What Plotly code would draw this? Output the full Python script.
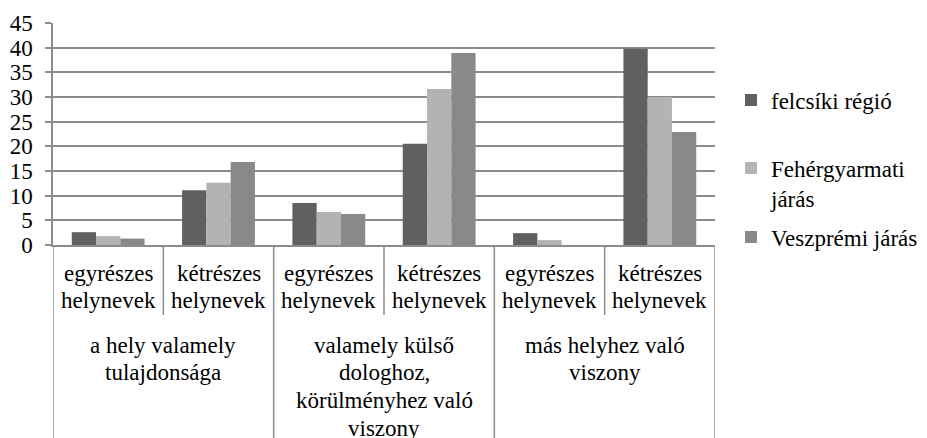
import plotly.graph_objects as go

groups = ["a hely valamely<br>tulajdonsága",
          "valamely külső<br>dologhoz,<br>körülményhez való<br>viszony",
          "más helyhez való<br>viszony"]
subcats = ["egyrészes<br>helynevek", "kétrészes<br>helynevek"]
series_names = ["felcsíki régió", "Fehérgyarmati<br>járás", "Veszprémi járás"]
felcsiki = [2.6, 11.1, 8.5, 20.5, 2.4, 39.8]
fehergyarmati = [1.8, 12.6, 6.7, 31.6, 1.0, 30.0]
veszpremi = [1.3, 16.8, 6.3, 38.9, 0, 22.9]
yticks = [0, 5, 10, 15, 20, 25, 30, 35, 40, 45]
colors = ["#606060", "#b3b3b3", "#898989"]

FONT = "Liberation Serif"
FS = 23
GRID = "#8c8c8c"

W, H = 927, 438
ML, MR, MT, MB = 53, 212, 23, 193
PH = H - MT - MB


def py2paper(py):
    return (H - MB - py) / PH


n = len(groups) * len(subcats)
xs = list(range(n))
sub_labels = [subcats[i % len(subcats)] for i in xs]

fig = go.Figure()
legend_ids = ["legend", "legend2", "legend3"]
for name, vals, col, lg in zip(series_names, [felcsiki, fehergyarmati, veszpremi], colors, legend_ids):
    fig.add_trace(go.Bar(x=xs, y=vals, name=name, marker=dict(color=col, line=dict(width=0)),
                         legend=lg))

LINE = 27
# sub-category labels, one annotation per line
for i, lab in enumerate(sub_labels):
    for j, line in enumerate(lab.split("<br>")):
        fig.add_annotation(x=i, y=py2paper(273 + j * LINE), xref="x", yref="paper", text=line,
                           showarrow=False, yanchor="middle",
                           font=dict(family=FONT, size=FS, color="#000"))
# group labels
for g, lab in enumerate(groups):
    for j, line in enumerate(lab.split("<br>")):
        fig.add_annotation(x=g * 2 + 0.5, y=py2paper(345 + j * 27.7), xref="x", yref="paper",
                           text=line, showarrow=False, yanchor="middle",
                           font=dict(family=FONT, size=FS, color="#000"))
# separators
for k in range(n + 1):
    edge = k - 0.5
    bottom = py2paper(H + 5) if k % 2 == 0 else py2paper(315)
    fig.add_shape(type="line", x0=edge, x1=edge, y0=0, y1=bottom, xref="x", yref="paper",
                  line=dict(color=GRID, width=1.5))

legend_common = dict(font=dict(family=FONT, size=FS, color="#000"), xanchor="left",
                     yanchor="middle", valign="top", bgcolor="rgba(0,0,0,0)")
lx = (731 - ML) / (W - ML - MR)
fig.update_layout(
    width=W, height=H,
    margin=dict(l=ML, r=MR, t=MT, b=MB, autoexpand=False),
    paper_bgcolor="white", plot_bgcolor="white",
    barmode="group", bargap=0.34, bargroupgap=0,
    showlegend=True,
    legend=dict(x=lx, y=py2paper(100), **legend_common),
    legend2=dict(x=lx, y=py2paper(183), **legend_common),
    legend3=dict(x=lx, y=py2paper(237), **legend_common),
    xaxis=dict(range=[-0.5, n - 0.5], showticklabels=False, showgrid=False, zeroline=False,
               showline=True, linecolor=GRID, linewidth=1.5, ticks="", automargin=False),
    yaxis=dict(range=[0, 45], tickvals=yticks, ticktext=[str(v) for v in yticks],
               showgrid=True, gridcolor=GRID, gridwidth=1.5, zeroline=False,
               showline=True, linecolor=GRID, linewidth=1.5, automargin=False,
               ticks="outside", ticklen=6, tickcolor=GRID, tickwidth=1.5,
               ticklabelstandoff=8,
               tickfont=dict(family=FONT, size=FS, color="#000")),
)
fig.write_html("out.html", config={"displayModeBar": False},
               post_script="document.body.style.margin='0';")
